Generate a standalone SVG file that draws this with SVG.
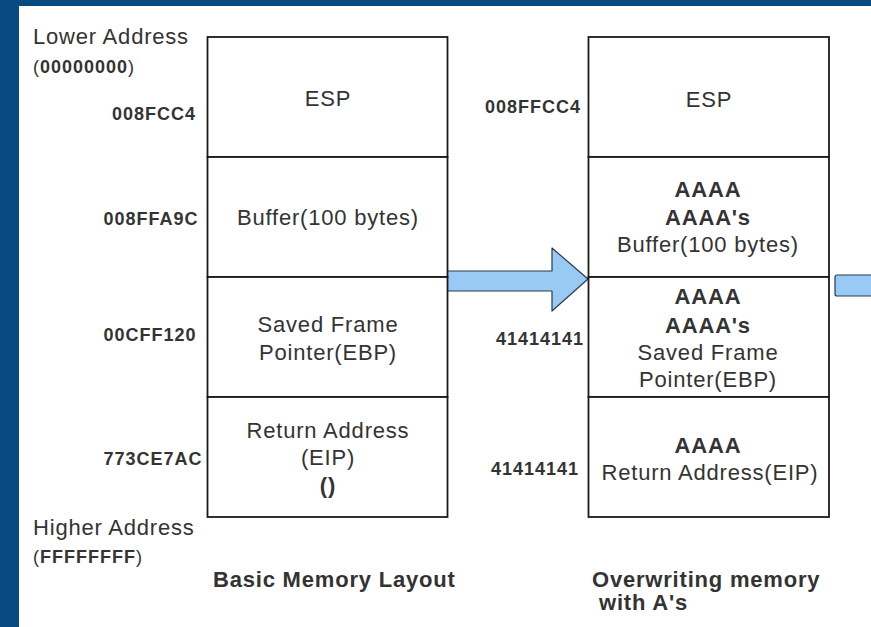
<svg xmlns="http://www.w3.org/2000/svg" width="871" height="627" viewBox="0 0 871 627">
  <style>
    text { font-family: "Liberation Sans", Arial, sans-serif; fill: #333333; }
    .t { font-size: 22px; letter-spacing: 0.8px; }
    .tb { font-size: 22px; letter-spacing: 0.8px; font-weight: bold; }
    .a { font-size: 18px; letter-spacing: 1px; font-weight: bold; }
    .m { text-anchor: middle; }
    .cell { fill: #ffffff; stroke: #1a1a1a; stroke-width: 1.8; }
    .arrow { fill: #99c9f5; stroke: #2a3a4a; stroke-width: 1.2; stroke-linejoin: round; }
  </style>
  <rect x="0" y="0" width="871" height="627" fill="#084b82"/>
  <rect x="19" y="6" width="852" height="621" fill="#ffffff"/>

  <g id="side-labels">
    <text class="t" x="33" y="44">Lower Address</text>
    <text class="a" x="33" y="73"><tspan font-weight="normal">(</tspan>00000000<tspan font-weight="normal">)</tspan></text>
    <text class="t" x="33" y="535">Higher Address</text>
    <text class="a" x="33" y="563"><tspan font-weight="normal">(</tspan>FFFFFFFF<tspan font-weight="normal">)</tspan></text>
  </g>

  <g id="connectors">
    <path class="arrow" d="M447,271 L552,271 L552,248 L588,279 L552,311 L552,291 L447,291 Q445,291 445,289 L445,273 Q445,271 447,271 Z"/>
    <path class="arrow" d="M837,275 L880,275 L880,296 L837,296 Q835,296 835,294 L835,277 Q835,275 837,275 Z"/>
  </g>

  <g id="basic-esp">
    <rect class="cell" x="207.5" y="37" width="240" height="120"/>
    <text class="t m" x="328" y="106">ESP</text>
    <text class="a m" x="154" y="120">008FCC4</text>
  </g>
  <g id="basic-buffer">
    <rect class="cell" x="207.5" y="157" width="240" height="120"/>
    <text class="t m" x="328" y="225">Buffer(100 bytes)</text>
    <text class="a m" x="151" y="225">008FFA9C</text>
  </g>
  <g id="basic-ebp">
    <rect class="cell" x="207.5" y="277" width="240" height="120"/>
    <text class="t m" x="328" y="332">Saved Frame</text>
    <text class="t m" x="328" y="360">Pointer(EBP)</text>
    <text class="a m" x="150" y="341">00CFF120</text>
  </g>
  <g id="basic-eip">
    <rect class="cell" x="207.5" y="397" width="240" height="120"/>
    <text class="t m" x="328" y="438">Return Address</text>
    <text class="t m" x="328" y="465">(EIP)</text>
    <text class="tb m" x="328" y="493">()</text>
    <text class="a m" x="153" y="465">773CE7AC</text>
  </g>
  <g id="basic-caption">
    <text class="tb" x="213" y="587">Basic Memory Layout</text>
  </g>

  <g id="over-esp">
    <rect class="cell" x="588.5" y="37" width="240.5" height="120"/>
    <text class="t m" x="709" y="107">ESP</text>
    <text class="a m" x="533" y="113">008FFCC4</text>
  </g>
  <g id="over-buffer">
    <rect class="cell" x="588.5" y="157" width="240.5" height="120"/>
    <text class="tb m" x="708" y="197">AAAA</text>
    <text class="tb m" x="708" y="225">AAAA's</text>
    <text class="t m" x="708" y="252">Buffer(100 bytes)</text>
  </g>
  <g id="over-ebp">
    <rect class="cell" x="588.5" y="277" width="240.5" height="120"/>
    <text class="tb m" x="708" y="304">AAAA</text>
    <text class="tb m" x="708" y="333">AAAA's</text>
    <text class="t m" x="708" y="360">Saved Frame</text>
    <text class="t m" x="708" y="387">Pointer(EBP)</text>
    <text class="a m" x="540" y="345">41414141</text>
  </g>
  <g id="over-eip">
    <rect class="cell" x="588.5" y="397" width="240.5" height="120"/>
    <text class="tb m" x="708" y="453">AAAA</text>
    <text class="t m" x="710" y="480">Return Address(EIP)</text>
    <text class="a m" x="535" y="475">41414141</text>
  </g>
  <g id="over-caption">
    <text class="tb" x="592" y="587">Overwriting memory</text>
    <text class="tb" x="599" y="610">with A's</text>
  </g>
</svg>
